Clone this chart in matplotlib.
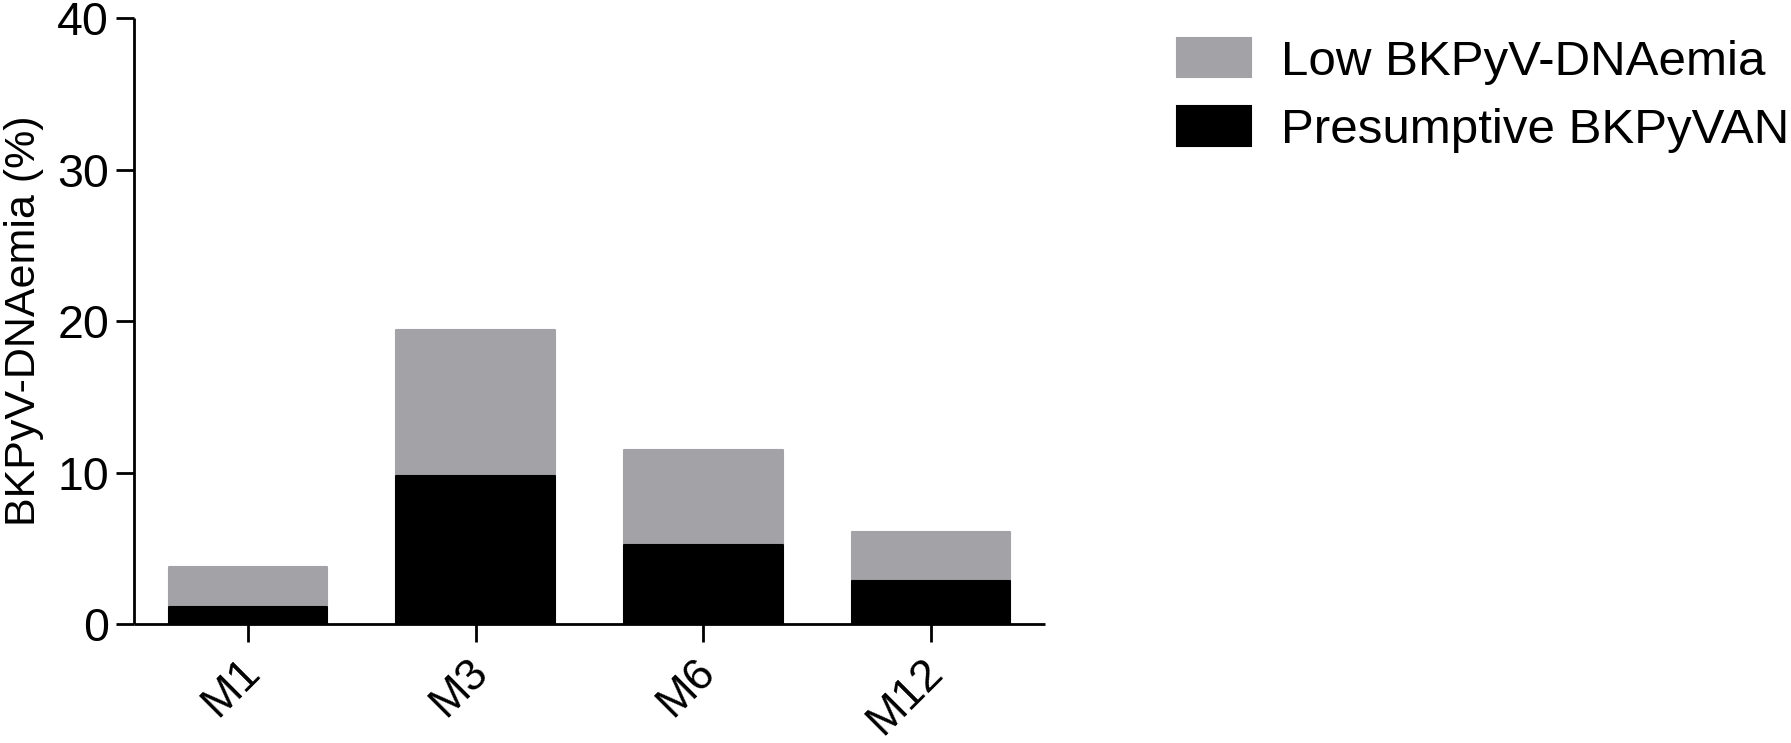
import matplotlib
matplotlib.use("Agg")
import matplotlib.pyplot as plt
import matplotlib.transforms as mtransforms
import numpy as np

plt.rcParams["font.family"] = ["Liberation Sans", "DejaVu Sans"]

# values (percent of patients)
timepoints = ["M1", "M3", "M6", "M12"]
presumptive_bkpyvan = [1.1, 9.8, 5.2, 2.85]
low_dnaemia = [2.65, 9.6, 6.3, 3.2]
y_ticks = [0, 10, 20, 30, 40]

GREY = "#a3a2a7"
BLACK = "#000000"

fig = plt.figure(figsize=(17.91, 7.43), dpi=100)
ax = fig.add_axes([134 / 1791, 119 / 743, 911 / 1791, 605.7 / 743])

x = np.arange(len(timepoints))
pres = np.array(presumptive_bkpyvan)
low = np.array(low_dnaemia)

# small same-colour edge with round joins gives the softened corners
b_low = ax.bar(x, low, bottom=pres, width=0.695, color=GREY, edgecolor=GREY,
               linewidth=1.5, joinstyle="round", label="Low BKPyV-DNAemia", zorder=2)
b_pres = ax.bar(x, pres, width=0.695, color=BLACK, edgecolor=BLACK,
                linewidth=1.5, joinstyle="round", label="Presumptive BKPyVAN", zorder=3)

ax.set_xlim(-0.5, 3.5)
ax.set_ylim(0, 40)
ax.set_yticks(y_ticks)
ax.set_xticks(x)
ax.set_xticklabels(timepoints, rotation=45, ha="right", rotation_mode="anchor")

for side in ("top", "right"):
    ax.spines[side].set_visible(False)
for side in ("left", "bottom"):
    ax.spines[side].set_linewidth(2)
    ax.spines[side].set_capstyle("butt")
ax.tick_params(axis="both", length=13, width=2, color="black")
ax.tick_params(axis="y", pad=5, labelsize=33.5)
ax.tick_params(axis="x", pad=6.5, labelsize=32.5)

# the rotated labels sit a little left of their ticks
shift = mtransforms.ScaledTranslation(-9 / 100, 0, fig.dpi_scale_trans)
for lab in ax.get_xticklabels():
    lab.set_transform(lab.get_transform() + shift)

fig.text(44 / 1791, 0.568, "BKPyV-DNAemia (%)", rotation=90,
         ha="right", va="center", fontsize=31)

fig.legend(handles=[b_low, b_pres], loc="upper left",
           bbox_to_anchor=(1177 / 1791, 1 - 38 / 743), frameon=False,
           fontsize=35.5, handlelength=1.5, handleheight=0.85,
           handletextpad=0.6, labelspacing=0.44, borderpad=0, borderaxespad=0)

fig.savefig("out.png", dpi=100)
